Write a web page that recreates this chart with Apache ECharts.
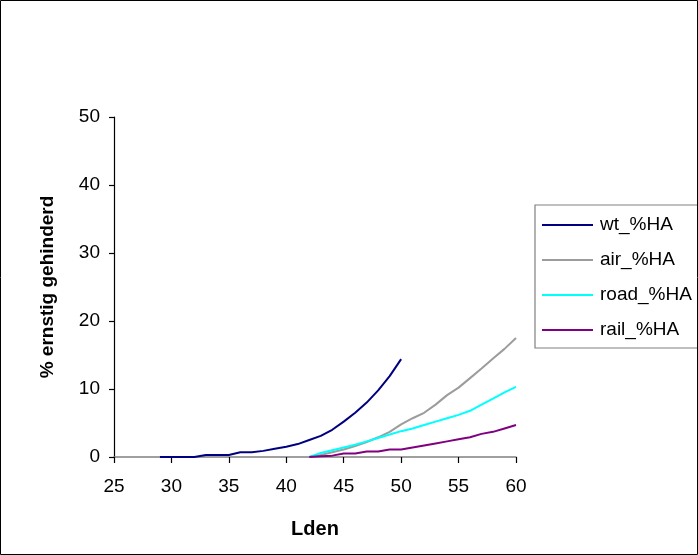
<!DOCTYPE html>
<html>
<head>
<meta charset="utf-8">
<script src="https://cdn.jsdelivr.net/npm/echarts@6/dist/echarts.min.js"></script>
<style>
html,body{margin:0;padding:0;background:#fff;}
#c{width:698px;height:555px;}
</style>
</head>
<body>
<div id="c"></div>
<script>
const xWt = [29,30,31,32,33,34,35,36,37,38,39,40,41,42,43,44,45,46,47,48,49,50];
const wt = [0,0,0,0,0.3,0.3,0.3,0.7,0.7,0.9,1.2,1.5,1.9,2.5,3.1,4.0,5.2,6.5,8.0,9.8,11.9,14.4];
const xOther = [42,43,44,45,46,47,48,49,50,51,52,53,54,55,56,57,58,59,60];
const air = [0,0.3,0.7,1.1,1.6,2.2,2.9,3.7,4.8,5.7,6.5,7.7,9.1,10.2,11.6,13.0,14.5,15.9,17.5];
const road = [0,0.6,1.0,1.4,1.8,2.3,2.8,3.3,3.8,4.2,4.7,5.2,5.7,6.2,6.8,7.7,8.6,9.5,10.3];
const rail = [0,0.1,0.2,0.5,0.5,0.8,0.8,1.1,1.1,1.4,1.7,2.0,2.3,2.6,2.9,3.4,3.7,4.2,4.7];
const names = ['wt_%HA','air_%HA','road_%HA','rail_%HA'];
const colors = ['#000080','#9c9c9c','#00ffff','#800080'];
const xTitle = 'Lden';
const yTitle = '% ernstig gehinderd';

const pair = (xs, ys) => xs.map((x, i) => [x, ys[i]]);
const font = 'Arial, "Liberation Sans", sans-serif';

const chart = echarts.init(document.getElementById('c'));
chart.setOption({
  animation: false,
  backgroundColor: '#fff',
  textStyle: {fontFamily: font},
  grid: {left: 114, right: 182, top: 117, bottom: 98, containLabel: false},
  xAxis: {
    type: 'value', min: 25, max: 60, interval: 5,
    name: xTitle, nameLocation: 'middle', nameGap: 62,
    nameTextStyle: {fontFamily: font, fontWeight: 'bold', fontSize: 20, color: '#000'},
    axisLine: {lineStyle: {color: '#808080', width: 1.5}},
    axisTick: {show: true, length: 6, lineStyle: {color: '#000', width: 1.2}},
    axisLabel: {fontFamily: font, fontSize: 19, color: '#000', margin: 20},
    splitLine: {show: false}
  },
  yAxis: {
    type: 'value', min: 0, max: 50, interval: 10,
    name: yTitle, nameLocation: 'middle', nameGap: 57, nameRotate: 90,
    nameTextStyle: {fontFamily: font, fontWeight: 'bold', fontSize: 19, color: '#000'},
    axisLine: {show: true, lineStyle: {color: '#000', width: 1.2}},
    axisTick: {show: true, length: 5, lineStyle: {color: '#000', width: 1.2}},
    axisLabel: {fontFamily: font, fontSize: 19, color: '#000', margin: 14},
    splitLine: {show: false}
  },
  legend: {
    orient: 'vertical', left: 535, top: 205,
    padding: [10, 24, 8, 7], itemGap: 15,
    itemWidth: 51, itemHeight: 2, icon: 'rect',
    borderColor: '#808080', borderWidth: 1.2, borderRadius: 0,
    backgroundColor: '#fff',
    textStyle: {fontFamily: font, fontSize: 19, color: '#000', lineHeight: 20, padding: [0,0,0,2]},
    data: names
  },
  graphic: [{
    type: 'rect', silent: true, z: 100,
    shape: {x: 0.5, y: 0.5, width: 697, height: 554},
    style: {fill: 'none', stroke: '#000', lineWidth: 1}
  }],
  series: [
    {name: names[0], type: 'line', data: pair(xWt, wt), showSymbol: false, lineStyle: {width: 2, color: colors[0]}, itemStyle: {color: colors[0]}},
    {name: names[1], type: 'line', data: pair(xOther, air), showSymbol: false, lineStyle: {width: 2, color: colors[1]}, itemStyle: {color: colors[1]}},
    {name: names[2], type: 'line', data: pair(xOther, road), showSymbol: false, lineStyle: {width: 2, color: colors[2]}, itemStyle: {color: colors[2]}},
    {name: names[3], type: 'line', data: pair(xOther, rail), showSymbol: false, lineStyle: {width: 2, color: colors[3]}, itemStyle: {color: colors[3]}}
  ]
});
</script>
</body>
</html>
